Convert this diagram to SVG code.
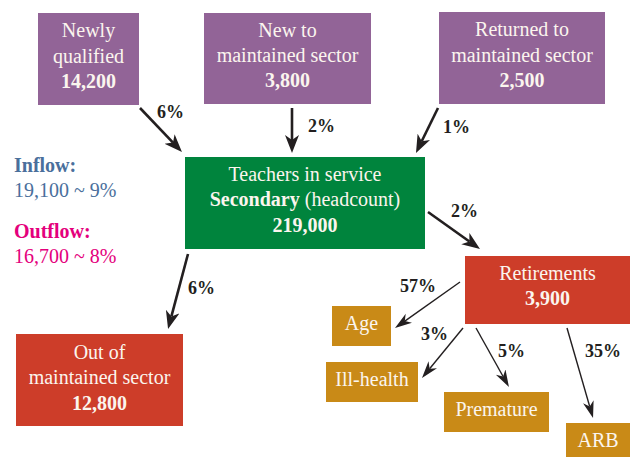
<svg xmlns="http://www.w3.org/2000/svg" width="630" height="457" viewBox="0 0 630 457">
<style>
text{font-family:"Liberation Serif","Times New Roman",serif}
.bt{fill:#fbf5ee;font-size:20px;text-anchor:middle}
.b{font-weight:bold}
.pct{fill:#231f20;font-size:18px;font-weight:bold}
.thick{stroke:#231f20;stroke-width:2.6;fill:none}
.thin{stroke:#231f20;stroke-width:1.4;fill:none}
.purple{fill:#926497}
.green{fill:#00843d}
.red{fill:#cd3d29}
.gold{fill:#c98a17}
</style>
<defs>
<marker id="ah" markerUnits="userSpaceOnUse" markerWidth="19" markerHeight="15" refX="5" refY="7" orient="auto">
<path d="M0,0 L18,7 L0,14 L5,7 z" fill="#231f20"/>
</marker>
<marker id="ahs" markerUnits="userSpaceOnUse" markerWidth="18" markerHeight="12" refX="5" refY="5.5" orient="auto">
<path d="M0,0 L17,5.5 L0,11 L5,5.5 z" fill="#231f20"/>
</marker>
</defs>
<rect width="630" height="457" fill="#ffffff"/>

<g id="newly-qualified">
<rect class="purple" x="38" y="13" width="101" height="92"/>
<text class="bt" x="88.5" y="37">Newly</text>
<text class="bt" x="88.5" y="63">qualified</text>
<text class="bt b" x="88.5" y="88">14,200</text>
</g>
<g id="new-to-maintained">
<rect class="purple" x="204" y="13" width="167" height="91"/>
<text class="bt" x="287.5" y="37">New to</text>
<text class="bt" x="287.5" y="62">maintained sector</text>
<text class="bt b" x="287.5" y="87">3,800</text>
</g>
<g id="returned-to-maintained">
<rect class="purple" x="439" y="12" width="166" height="92"/>
<text class="bt" x="522" y="36">Returned to</text>
<text class="bt" x="522" y="62">maintained sector</text>
<text class="bt b" x="522" y="87">2,500</text>
</g>
<g id="teachers-in-service">
<rect class="green" x="185" y="157" width="240" height="92"/>
<text class="bt" x="305" y="181">Teachers in service</text>
<text class="bt" x="305" y="206"><tspan class="b">Secondary</tspan> (headcount)</text>
<text class="bt b" x="305" y="232">219,000</text>
</g>
<g id="out-of-maintained">
<rect class="red" x="16" y="334" width="167" height="92"/>
<text class="bt" x="99.5" y="359">Out of</text>
<text class="bt" x="99.5" y="384">maintained sector</text>
<text class="bt b" x="99.5" y="410">12,800</text>
</g>
<g id="retirements">
<rect class="red" x="465" y="256" width="165" height="68"/>
<text class="bt" x="547.5" y="280">Retirements</text>
<text class="bt b" x="547.5" y="305">3,900</text>
</g>
<g id="age">
<rect class="gold" x="332" y="306" width="59" height="40"/>
<text class="bt" x="361.5" y="330">Age</text>
</g>
<g id="ill-health">
<rect class="gold" x="326" y="362" width="92" height="40"/>
<text class="bt" x="372" y="386">Ill-health</text>
</g>
<g id="premature">
<rect class="gold" x="444" y="392" width="105" height="40"/>
<text class="bt" x="496.5" y="416">Premature</text>
</g>
<g id="arb">
<rect class="gold" x="566" y="423" width="64" height="34"/>
<text class="bt" x="598" y="447">ARB</text>
</g>

<g id="legend">
<text x="14" y="172" font-size="20" font-weight="bold" fill="#4a6f9c">Inflow:</text>
<text x="14" y="197" font-size="20" fill="#4a6f9c">19,100 ~ 9%</text>
<text x="14" y="238" font-size="20" font-weight="bold" fill="#e4007c">Outflow:</text>
<text x="14" y="263" font-size="20" fill="#e4007c">16,700 ~ 8%</text>
</g>

<g id="connectors">
<line class="thick" x1="140" y1="108" x2="173" y2="142.6" marker-end="url(#ah)"/>
<line class="thick" x1="292" y1="108" x2="292" y2="140" marker-end="url(#ah)"/>
<line class="thick" x1="438" y1="108" x2="421.7" y2="141.3" marker-end="url(#ah)"/>
<line class="thick" x1="428" y1="212" x2="469.4" y2="241.5" marker-end="url(#ah)"/>
<line class="thick" x1="188" y1="254" x2="171.4" y2="316.4" marker-end="url(#ah)"/>
<line class="thin" x1="460" y1="282" x2="404.8" y2="321.1" marker-end="url(#ahs)"/>
<line class="thin" x1="463" y1="328" x2="429.6" y2="368.7" marker-end="url(#ahs)"/>
<line class="thin" x1="476" y1="328" x2="503.1" y2="376.5" marker-end="url(#ahs)"/>
<line class="thin" x1="567" y1="328" x2="589.7" y2="406.5" marker-end="url(#ahs)"/>
<text class="pct" x="157" y="118">6%</text>
<text class="pct" x="308" y="132">2%</text>
<text class="pct" x="443" y="133">1%</text>
<text class="pct" x="451" y="217">2%</text>
<text class="pct" x="188" y="294">6%</text>
<text class="pct" x="400" y="292">57%</text>
<text class="pct" x="421" y="340">3%</text>
<text class="pct" x="498" y="357">5%</text>
<text class="pct" x="585" y="357">35%</text>
</g>
</svg>
